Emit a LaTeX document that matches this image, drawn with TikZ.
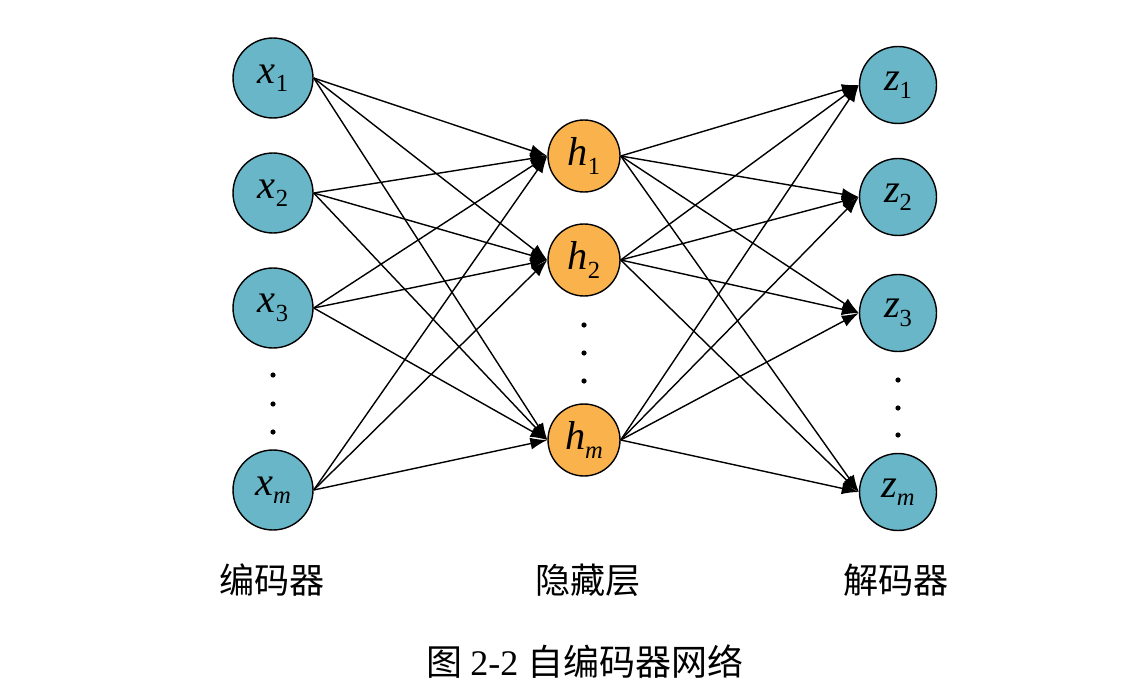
\documentclass[tikz,border=0pt]{standalone}
\usepackage{fontspec}
\setmainfont{Liberation Serif}
\newfontfamily\cjk{Noto Sans CJK SC}
\usetikzlibrary{arrows.meta}
\definecolor{tealfill}{RGB}{104,182,199}
\definecolor{orangefill}{RGB}{250,178,76}
\newcommand\nlab[2]{\fontsize{23}{23}\selectfont\textit{#1}\raisebox{-0.45ex}{\fontsize{14}{14}\selectfont #2}}
\begin{document}
\begin{tikzpicture}[x=0.02cm,y=-0.02cm,
  inode/.style={circle,draw=black,line width=0.8pt,fill=tealfill,minimum size=1.6cm,inner sep=0pt},
  hnode/.style={circle,draw=black,line width=0.8pt,fill=orangefill,minimum size=1.44cm,inner sep=0pt},
  znode/.style={circle,draw=black,line width=0.8pt,fill=tealfill,minimum size=1.54cm,inner sep=0pt},
  conn/.style={draw=black,line width=0.8pt,-{Latex[length=0.34cm,width=0.24cm]}},
  caption/.style={font=\cjk\fontsize{20}{20}\selectfont},
  dotmark/.style={fill=black}]
\useasboundingbox (0,0) rectangle (1132,682);
% input layer
\node[inode] (x1) at (273,78) {\nlab{x}{1}};
\node[inode] (x2) at (273,193) {\nlab{x}{2}};
\node[inode] (x3) at (273,308) {\nlab{x}{3}};
\node[inode] (xm) at (273,490) {\nlab{x}{\textit{m}}};
% hidden layer
\node[hnode] (h1) at (584,156) {\nlab{h}{1}};
\node[hnode] (h2) at (584,260) {\nlab{h}{2}};
\node[hnode] (hm) at (584,440) {\nlab{h}{\textit{m}}};
% output layer
\node[znode] (z1) at (898,85) {\nlab{z}{1}};
\node[znode] (z2) at (898,197) {\nlab{z}{2}};
\node[znode] (z3) at (898,313) {\nlab{z}{3}};
\node[znode] (zm) at (898,492) {\nlab{z}{\textit{m}}};
% dots
\foreach \yy in {375,404,432} \fill[dotmark] (273,\yy) circle (2.6);
\foreach \yy in {325,353,381} \fill[dotmark] (584,\yy) circle (2.6);
\foreach \yy in {380,408,435} \fill[dotmark] (898,\yy) circle (2.6);
% connectors
\foreach \a in {x1,x2,x3,xm}
  \foreach \b in {h1,h2,hm}
    \draw[conn] (\a.east) -- (\b.west);
\foreach \a in {h1,h2,hm}
  \foreach \b in {z1,z2,z3,zm}
    \draw[conn] (\a.east) -- (\b.west);
% labels
\node[caption] (lenc) at (272,580) {编码器};
\node[caption] (lhid) at (588,580) {隐藏层};
\node[caption] (ldec) at (896,580) {解码器};
\node[font=\fontsize{20.5}{20.5}\selectfont] (cap) at (585,662) {\cjk 图\ \rmfamily 2-2\ \cjk 自编码器网络};
\end{tikzpicture}
\end{document}
